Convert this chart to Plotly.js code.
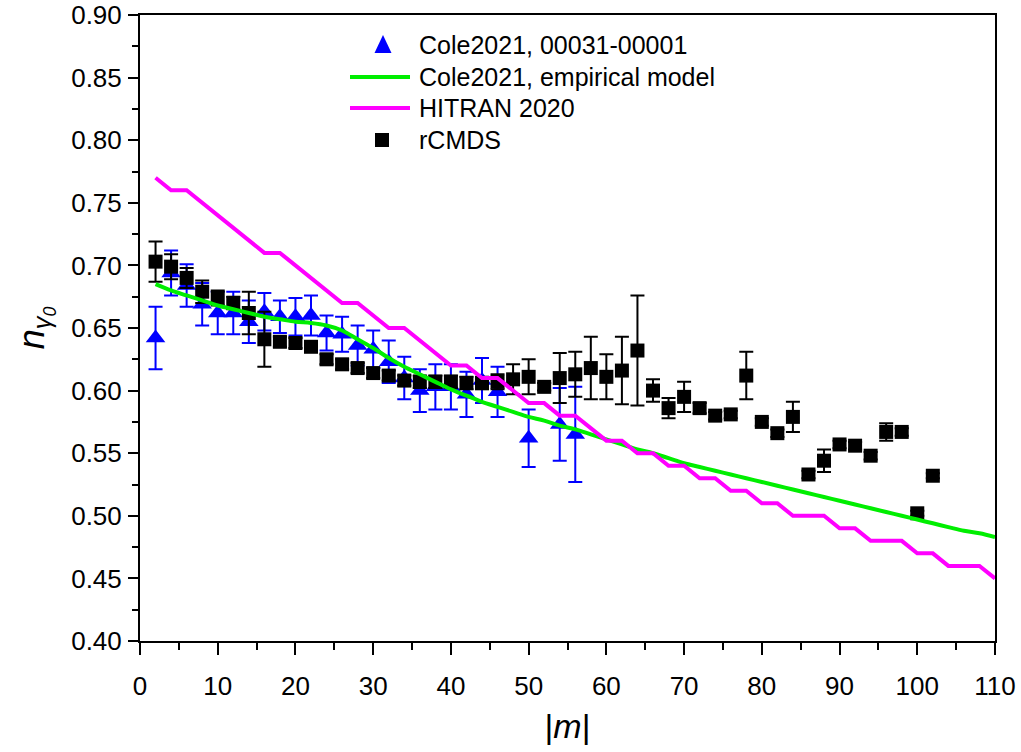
<!DOCTYPE html>
<html>
<head>
<meta charset="utf-8">
<script src="https://cdn.plot.ly/plotly-3.0.1.min.js"></script>
<style>html,body{margin:0;padding:0;background:#fff;}#chart{width:1021px;height:752px;}</style>
</head>
<body>
<div id="chart"></div>
<script>
// Cole2021, 00031-00001 (blue triangles)
const coleM   = [2,4,6,8,10,12,14,16,18,20,22,24,26,28,30,32,34,36,38,40,42,44,46,50,54,56];
const coleVal = [0.642,0.694,0.684,0.669,0.662,0.662,0.655,0.663,0.659,0.659,0.660,0.646,0.645,0.636,0.633,0.623,0.610,0.600,0.603,0.603,0.597,0.608,0.599,0.562,0.573,0.565];
const coleErr = [0.025,0.018,0.017,0.017,0.017,0.017,0.017,0.015,0.013,0.015,0.016,0.014,0.014,0.016,0.015,0.017,0.017,0.017,0.018,0.018,0.018,0.018,0.020,0.023,0.029,0.038];

// Cole2021, empirical model (green line)
const modelM   = [2,4,6,8,10,12,14,16,18,20,22,24,26,28,30,32,34,36,38,40,42,44,46,48,50,52,54,56,58,60,62,64,66,68,70,72,74,76,78,80,82,84,86,88,90,92,94,96,98,100,102,104,106,108,110];
const modelVal = [0.685,0.680,0.676,0.672,0.668,0.665,0.662,0.659,0.657,0.655,0.654,0.652,0.648,0.641,0.634,0.626,0.619,0.613,0.607,0.601,0.596,0.591,0.587,0.583,0.579,0.576,0.572,0.569,0.565,0.561,0.557,0.553,0.550,0.546,0.542,0.539,0.536,0.533,0.530,0.527,0.524,0.521,0.518,0.515,0.512,0.509,0.506,0.503,0.500,0.497,0.494,0.491,0.488,0.486,0.483];

// HITRAN 2020 (magenta line)
const hitranM   = [2,4,6,8,10,12,14,16,18,20,22,24,26,28,30,32,34,36,38,40,42,44,46,48,50,52,54,56,58,60,62,64,66,68,70,72,74,76,78,80,82,84,86,88,90,92,94,96,98,100,102,104,106,108,110];
const hitranVal = [0.77,0.76,0.76,0.75,0.74,0.73,0.72,0.71,0.71,0.70,0.69,0.68,0.67,0.67,0.66,0.65,0.65,0.64,0.63,0.62,0.62,0.61,0.61,0.60,0.59,0.59,0.58,0.58,0.57,0.56,0.56,0.55,0.55,0.54,0.54,0.53,0.53,0.52,0.52,0.51,0.51,0.50,0.50,0.50,0.49,0.49,0.48,0.48,0.48,0.47,0.47,0.46,0.46,0.46,0.45];

// rCMDS (black squares)
const rcmdsM   = [2,4,6,8,10,12,14,16,18,20,22,24,26,28,30,32,34,36,38,40,42,44,46,48,50,52,54,56,58,60,62,64,66,68,70,72,74,76,78,80,82,84,86,88,90,92,94,96,98,100,102];
const rcmdsVal = [0.703,0.699,0.690,0.679,0.674,0.670,0.662,0.641,0.639,0.638,0.635,0.625,0.621,0.618,0.614,0.612,0.608,0.607,0.607,0.607,0.606,0.606,0.607,0.609,0.611,0.603,0.610,0.613,0.618,0.611,0.616,0.632,0.600,0.586,0.595,0.586,0.580,0.581,0.612,0.575,0.566,0.579,0.533,0.544,0.557,0.556,0.548,0.567,0.567,0.502,0.532];
const rcmdsErr = [0.016,0.010,0.008,0.009,0.006,0.005,0.017,0.022,0.004,0.004,0.004,0.004,0.004,0.004,0.004,0.004,0.004,0.005,0.005,0.005,0.005,0.005,0.006,0.012,0.014,0.003,0.020,0.018,0.025,0.018,0.027,0.044,0.009,0.008,0.012,0.004,0.003,0.003,0.019,0.003,0.003,0.012,0.003,0.009,0.003,0.003,0.003,0.007,0.003,0.002,0.002];

// Legend entries (label text, in drawing order of the legend)
const legendLabels = ['Cole2021, 00031-00001', 'Cole2021, empirical model', 'HITRAN 2020', 'rCMDS'];

const FONT = "Liberation Sans, Arial, sans-serif";
const BLUE = '#0000ff', GREEN = '#00ee00', MAGENTA = '#ff00ff', BLACK = '#000000';

const traces = [
  {
    x: coleM, y: coleVal, type: 'scatter', mode: 'markers',
    name: legendLabels[0], showlegend: false,
    marker: {symbol: 'triangle-up', size: 17, color: BLUE},
    error_y: {type: 'data', array: coleErr, visible: true, color: BLUE, thickness: 2, width: 7}
  },
  {
    x: rcmdsM, y: rcmdsVal, type: 'scatter', mode: 'markers',
    name: legendLabels[3], showlegend: false,
    marker: {symbol: 'square', size: 14, color: BLACK},
    error_y: {type: 'data', array: rcmdsErr, visible: true, color: BLACK, thickness: 2, width: 7}
  },
  {
    x: modelM, y: modelVal, type: 'scatter', mode: 'lines',
    name: legendLabels[1], showlegend: false,
    line: {color: GREEN, width: 4, shape: 'spline'}
  },
  {
    x: hitranM, y: hitranVal, type: 'scatter', mode: 'lines',
    name: legendLabels[2], showlegend: false,
    line: {color: MAGENTA, width: 4}
  }
];

// ---- hand-built legend (paper coordinates of the plot area) ----
const PW = 855, PH = 626;               // plot area size in px
const legX0 = 210 / PW, legX1 = 270 / PW, legTextX = 277 / PW, legSymX = 242 / PW;
const rowY = [596, 564, 533, 501].map(v => v / PH);
const sym = (cx, cy, hw, hh) => ({cx, cy, hw: hw / PW, hh: hh / PH});

const shapes = [];
// triangle symbol
(function () {
  const s = sym(legSymX + 1 / PW, rowY[0], 8.5, 8);
  shapes.push({type: 'path', xref: 'paper', yref: 'paper', fillcolor: BLUE, line: {width: 0},
    path: `M${s.cx - s.hw},${s.cy - s.hh} L${s.cx + s.hw},${s.cy - s.hh} L${s.cx},${s.cy + s.hh + 2 / PH} Z`});
})();
// line symbols
shapes.push({type: 'line', xref: 'paper', yref: 'paper', x0: legX0, x1: legX1, y0: rowY[1], y1: rowY[1], line: {color: GREEN, width: 4}});
shapes.push({type: 'line', xref: 'paper', yref: 'paper', x0: legX0, x1: legX1, y0: rowY[2], y1: rowY[2], line: {color: MAGENTA, width: 4}});
// square symbol
(function () {
  const s = sym(legSymX, rowY[3], 7, 7);
  shapes.push({type: 'rect', xref: 'paper', yref: 'paper', fillcolor: BLACK, line: {width: 0},
    x0: s.cx - s.hw, x1: s.cx + s.hw, y0: s.cy - s.hh, y1: s.cy + s.hh});
})();

const annotations = legendLabels.map((t, i) => ({
  text: t, xref: 'paper', yref: 'paper', x: legTextX, y: rowY[i],
  xanchor: 'left', yanchor: 'middle', showarrow: false,
  font: {family: FONT, size: 25, color: BLACK}
}));

const layout = {
  width: 1021, height: 752,
  margin: {l: 140, r: 26, t: 15, b: 111},
  paper_bgcolor: '#ffffff', plot_bgcolor: '#ffffff',
  font: {family: FONT, color: '#000'},
  showlegend: false,
  shapes: shapes,
  annotations: annotations,
  xaxis: {
    range: [0, 110], dtick: 10, tick0: 0,
    showgrid: false, zeroline: false,
    showline: true, linecolor: '#000', linewidth: 2, mirror: true,
    ticks: 'outside', ticklen: 12, tickwidth: 2, tickcolor: '#000',
    minor: {dtick: 5, ticks: 'outside', ticklen: 7, tickwidth: 2, tickcolor: '#000', showgrid: false},
    tickfont: {family: FONT, size: 26, color: '#000'},
    ticklabelstandoff: 9,
    title: {text: '|<i>m</i>|', font: {family: FONT, size: 34, color: '#000'}, standoff: 14}
  },
  yaxis: {
    range: [0.40, 0.90], dtick: 0.05, tick0: 0.40, tickformat: '.2f',
    showgrid: false, zeroline: false,
    showline: true, linecolor: '#000', linewidth: 2, mirror: true,
    ticks: 'outside', ticklen: 10, tickwidth: 2, tickcolor: '#000',
    minor: {dtick: 0.025, ticks: 'outside', ticklen: 6, tickwidth: 2, tickcolor: '#000', showgrid: false},
    tickfont: {family: FONT, size: 26, color: '#000'},
    ticklabelstandoff: 1,
    title: {text: '<i>n</i><sub><i>γ</i><sub><i>0</i></sub></sub>', font: {family: FONT, size: 36, color: '#000'}, standoff: 16}
  }
};

Plotly.newPlot('chart', traces, layout, {displayModeBar: false, staticPlot: true});
</script>
</body>
</html>
